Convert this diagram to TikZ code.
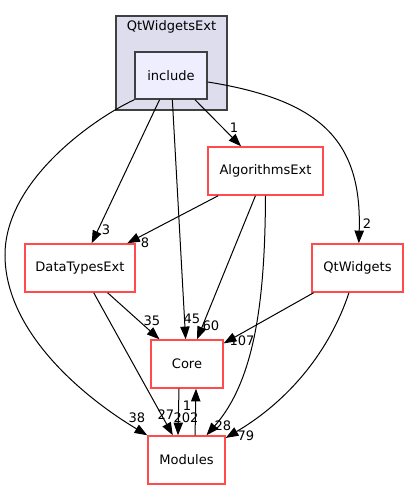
\documentclass[tikz,border=0pt]{standalone}
\usepackage{fontspec}
\setmainfont{DejaVu Sans}
\usepackage{tikz}
\usetikzlibrary{arrows.meta}
\definecolor{dirred}{RGB}{255,75,75}
\definecolor{clusterfill}{HTML}{DDDDEE}
\definecolor{incfill}{HTML}{EEEEFF}
\definecolor{framegray}{HTML}{404040}

\begin{document}
\begin{tikzpicture}
	[x=0.75pt,y=-0.75pt,
	every node/.style={font=\fontsize{9.8}{12}\selectfont},
	dirbox/.style={rectangle,draw=dirred,line width=1.1pt,minimum height=36pt,inner sep=0},
	cluster/.style={rectangle,draw=framegray,fill=clusterfill,line width=1.1pt,inner sep=0},
	incbox/.style={rectangle,draw=framegray,fill=incfill,line width=1.1pt,inner sep=0},
	edgelbl/.style={inner sep=0},
	dep/.style={-{Triangle[length=9.5pt,width=7pt]},line width=0.75pt}]
	\useasboundingbox (0,0) rectangle (408,489);

	\node[cluster,minimum width=83.25pt,minimum height=70.5pt] (qtwext) at (171.5,63) {};
	\node (qtwextlbl) at (171.5,27) {QtWidgetsExt};
	\node[incbox,minimum width=54pt,minimum height=35.25pt] (include) at (171,75.5) {include};

	\node[dirbox,minimum width=86.25pt] (algo) at (265.5,171) {AlgorithmsExt};
	\node[dirbox,minimum width=82.5pt] (dtypes) at (80,268) {DataTypesExt};
	\node[dirbox,minimum width=68.25pt] (qtw) at (357.5,268) {QtWidgets};
	\node[dirbox,minimum width=54pt] (core) at (187,364) {Core};
	\node[dirbox,minimum width=57.75pt] (modules) at (186.5,460) {Modules};

	\foreach \from/\to in {include/dtypes,include/core,include/algo,algo/dtypes,algo/core,dtypes/core,dtypes/modules,qtw/core}
	\draw[dep] (\from) -- (\to);

	\draw[dep] (include.-10) .. controls (320,100) and (362,140) .. ([xshift=1pt]qtw.north);
	\draw[dep] (include.south west) .. controls (95,118) and (5,180) .. (5,255)
		.. controls (5,330) and (80,395) .. (modules.north west);
	\draw[dep] (algo.south) .. controls (265,300) and (255,380) .. ([xshift=15pt]modules.north);
	\draw[dep] ([xshift=-6.4pt]qtw.south) .. controls (330,350) and (290,400) .. ([yshift=-2pt]modules.north east);
	\draw[dep] ([xshift=-6pt]core.south) -- ([xshift=-6.4pt]modules.north);
	\draw[dep] ([xshift=6.4pt]modules.north) -- ([xshift=6.75pt]core.south);

	\foreach \name/\pos/\txt in {l3/{(106,230)}/3,l8/{(145,243)}/8,l1a/{(234,128)}/1,l2/{(367,224)}/2,
		l35/{(152,321)}/35,l45/{(192,319)}/45,l60/{(211,326)}/60,l107/{(242,341)}/107,
		l1b/{(187,406)}/1,l202/{(186,418)}/202,l27/{(166,415)}/27,l38/{(137,418)}/38,
		l28/{(223,426)}/28,l79/{(246,436)}/79}
	\node[edgelbl] (\name) at \pos {\txt};
\end{tikzpicture}
\end{document}
